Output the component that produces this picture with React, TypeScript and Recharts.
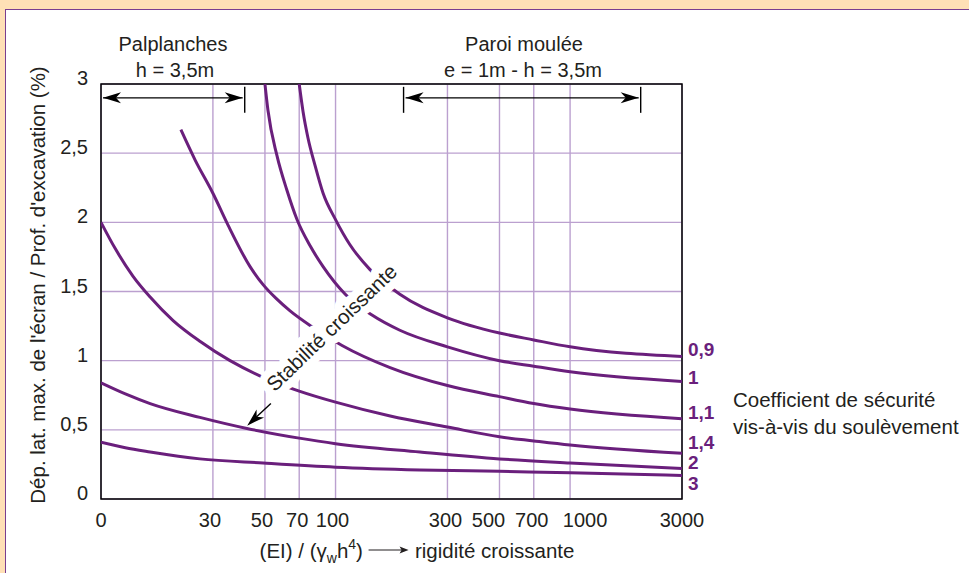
import React from 'react';
import {
  LineChart,
  Line,
  XAxis,
  YAxis,
  CartesianGrid,
  ReferenceArea,
  ReferenceLine,
  ReferenceDot,
} from 'recharts';

// x : (EI)/(γw h^4), log axis, the "0" tick sits at 10
const xTicks = [10, 30, 50, 70, 100, 300, 500, 700, 1000, 3000];
const yTicks = [0, 0.5, 1, 1.5, 2, 2.5, 3];

const seriesNames = ['0,9', '1', '1,1', '1,4', '2', '3'];

const x09 = [70, 72.7, 76.3, 81.8, 88.5, 100, 115, 140, 188, 300, 500, 700, 1000, 3000];
const y09 = [3.0, 2.8, 2.61, 2.41, 2.21, 2.02, 1.84, 1.66, 1.48, 1.31, 1.2, 1.15, 1.1, 1.03];

const x10 = [50, 51.5, 56.3, 62.1, 68.5, 77.9, 88.5, 110, 143, 188, 300, 500, 700, 1000, 3000];
const y10 = [3.0, 2.81, 2.48, 2.23, 2.02, 1.83, 1.68, 1.48, 1.33, 1.22, 1.1, 1.0, 0.96, 0.92, 0.85];

const x11 = [21.9, 25.2, 30, 34.8, 43.2, 49.1, 55.8, 64, 80.2, 106.6, 170.8, 300, 500, 700, 1000, 3000];
const y11 = [2.67, 2.45, 2.21, 1.98, 1.68, 1.55, 1.45, 1.36, 1.24, 1.11, 0.95, 0.82, 0.74, 0.69, 0.65, 0.58];

const x14 = [10, 11.5, 13.7, 16.2, 20.3, 26.4, 35.5, 49.1, 70, 100, 171, 300, 500, 700, 1000, 3000];
const y14 = [2.0, 1.81, 1.61, 1.46, 1.29, 1.14, 1.0, 0.88, 0.78, 0.7, 0.6, 0.52, 0.45, 0.42, 0.39, 0.33];

const x20 = [10, 12.7, 16.2, 26.4, 41.9, 70, 100, 229, 500, 1000, 3000];
const y20 = [0.84, 0.76, 0.69, 0.59, 0.51, 0.44, 0.4, 0.34, 0.29, 0.26, 0.22];

const x30 = [10, 12.7, 16.2, 26.4, 49.1, 100, 229, 500, 1000, 3000];
const y30 = [0.41, 0.37, 0.34, 0.29, 0.26, 0.23, 0.21, 0.2, 0.19, 0.17];

// annotation spans (x data units) drawn at y = 2.9
const palplanchesSpan = [10, 41];
const paroiSpan = [195, 2000];
const spanY = 2.9;
// "Stabilité croissante" arrow, from -> to
const stabArrow = [
  { x: 53, y: 0.69 },
  { x: 42, y: 0.53 },
];
const stabText = { x: 96, y: 1.24 };

const PURPLE = '#6a1f7c';
const GRID = '#bba0cf';
const INK = '#231f20';
const FONT = '"Liberation Sans", Arial, Helvetica, sans-serif';

const toPoints = (xs: number[], ys: number[]) => xs.map((x, i) => ({ x, y: ys[i] }));
const curves = [
  toPoints(x09, y09),
  toPoints(x10, y10),
  toPoints(x11, y11),
  toPoints(x14, y14),
  toPoints(x20, y20),
  toPoints(x30, y30),
];
const endLabelDy = [-7, -4, -6, -11, -6, 8];
const xLabelDx: Record<number, number> = { 30: -3, 50: -3, 70: -2, 100: -3, 300: -2, 500: -11, 700: -2, 1000: 15 };

const XTick = (props: any) => {
  const { x, y, payload } = props;
  const v = payload.value;
  return (
    <text x={x + (xLabelDx[v] || 0)} y={y + 20} textAnchor="middle" fontSize={20} fill={INK} fontFamily={FONT}>
      {v === 10 ? '0' : String(v)}
    </text>
  );
};

const YTick = (props: any) => {
  const { y, payload } = props;
  return (
    <text x={88} y={y + 1} textAnchor="end" fontSize={20} fill={INK} fontFamily={FONT}>
      {String(payload.value).replace('.', ',')}
    </text>
  );
};

const arrowHead = (x: number, y: number, ux: number, uy: number) => {
  // tip at (x,y), pointing along (ux,uy)
  const L = 18;
  const W = 5.5;
  const bx = x - ux * L;
  const by = y - uy * L;
  const nx = -uy;
  const ny = ux;
  const mx = x - ux * L * 0.72;
  const my = y - uy * L * 0.72;
  return `M${x},${y} L${bx + nx * W},${by + ny * W} L${mx},${my} L${bx - nx * W},${by - ny * W} Z`;
};

const SpanArrow = (withLeftBar: boolean) => (p: any) => {
  const { x1, y1, x2 } = p;
  const y = y1;
  return (
    <g>
      <line x1={x1 + 2} y1={y} x2={x2 - 2} y2={y} stroke="#000" strokeWidth={1.4} />
      <path d={arrowHead(x1 + 2, y, -1, 0)} fill="#000" />
      <path d={arrowHead(x2 - 2, y, 1, 0)} fill="#000" />
      {withLeftBar && <line x1={x1} y1={y - 11} x2={x1} y2={y + 15} stroke="#000" strokeWidth={1.4} />}
      <line x1={x2} y1={y - 11} x2={x2} y2={y + 15} stroke="#000" strokeWidth={1.4} />
    </g>
  );
};

const StabArrow = (p: any) => {
  const { x1, y1, x2, y2 } = p;
  const d = Math.hypot(x2 - x1, y2 - y1);
  const ux = (x2 - x1) / d;
  const uy = (y2 - y1) / d;
  return (
    <g>
      <line x1={x1} y1={y1} x2={x2 - ux * 10} y2={y2 - uy * 10} stroke="#000" strokeWidth={1.4} />
      <path d={arrowHead(x2, y2, ux, uy)} fill="#000" />
    </g>
  );
};

const StabText = (p: any) => {
  const { cx, cy } = p;
  return (
    <text
      x={cx}
      y={cy}
      transform={`rotate(-44 ${cx} ${cy})`}
      textAnchor="middle"
      dominantBaseline="central"
      fontSize={20.5}
      fontFamily={FONT}
      fill={INK}
      stroke="#fff"
      strokeWidth={16}
      strokeLinejoin="round"
      paintOrder="stroke"
    >
      Stabilité croissante
    </text>
  );
};

const EndLabel = (text: string, dy: number) => (p: any) => (
  <text
    x={p.cx + 6}
    y={p.cy + dy}
    dominantBaseline="central"
    fontSize={19}
    fontWeight="bold"
    fill={PURPLE}
    fontFamily={FONT}
  >
    {text}
  </text>
);

const abs = (left: number, top: number, extra: React.CSSProperties = {}): React.CSSProperties => ({
  position: 'absolute',
  left,
  top,
  transform: 'translate(-50%, -50%)',
  whiteSpace: 'nowrap',
  lineHeight: 1,
  fontSize: 20,
  color: INK,
  fontFamily: FONT,
  ...extra,
});

export default function App() {
  return (
    <div style={{ position: 'absolute', left: 0, top: 0, width: 969, height: 573, overflow: 'hidden', background: '#ffe0b6' }}>
      <div
        style={{
          position: 'absolute',
          left: 5,
          top: 9,
          width: 990,
          height: 600,
          background: '#fff',
          border: '1.5px solid #7a3e90',
        }}
      />
      <div style={{ position: 'absolute', left: 0, top: 0 }}>
        <LineChart width={969} height={573} margin={{ top: 84, right: 287, bottom: 44, left: 41 }}>
          <CartesianGrid stroke={GRID} strokeWidth={1.4} />
          <XAxis
            type="number"
            dataKey="x"
            scale="log"
            domain={[10, 3000]}
            allowDataOverflow
            ticks={xTicks}
            interval={0}
            height={30}
            tick={<XTick />}
            tickLine={false}
            axisLine={false}
          />
          <YAxis
            type="number"
            dataKey="y"
            domain={[0, 3]}
            allowDataOverflow
            ticks={yTicks}
            interval={0}
            width={60}
            tick={<YTick />}
            tickLine={false}
            axisLine={false}
          />
          {curves.map((pts, i) => (
            <Line
              key={seriesNames[i]}
              data={pts}
              dataKey="y"
              type="monotone"
              stroke={PURPLE}
              strokeWidth={3}
              dot={false}
              activeDot={false}
              isAnimationActive={false}
            />
          ))}
          <ReferenceArea x1={10} x2={3000} y1={0} y2={3} fill="none" fillOpacity={0} stroke="#000" strokeWidth={1.5} />
          <ReferenceLine
            segment={[
              { x: palplanchesSpan[0], y: spanY },
              { x: palplanchesSpan[1], y: spanY },
            ]}
            shape={SpanArrow(false)}
          />
          <ReferenceLine
            segment={[
              { x: paroiSpan[0], y: spanY },
              { x: paroiSpan[1], y: spanY },
            ]}
            shape={SpanArrow(true)}
          />
          <ReferenceLine segment={stabArrow} shape={StabArrow} />
          <ReferenceDot x={stabText.x} y={stabText.y} r={0} shape={StabText} zIndex={1000} />
          {curves.map((pts, i) => (
            <ReferenceDot
              key={'lbl' + i}
              x={pts[pts.length - 1].x}
              y={pts[pts.length - 1].y}
              r={0}
              ifOverflow="visible"
              shape={EndLabel(seriesNames[i], endLabelDy[i])}
            />
          ))}
        </LineChart>
      </div>
      <div style={abs(173, 44)}>Palplanches</div>
      <div style={abs(175, 70)}>h = 3,5m</div>
      <div style={abs(524, 44)}>Paroi moulée</div>
      <div style={abs(523, 70)}>e = 1m - h = 3,5m</div>
      <div style={abs(38, 285, { transform: 'translate(-50%, -50%) rotate(-90deg)', fontSize: 20.5 })}>
        Dép. lat. max. de l'écran / Prof. d'excavation (%)
      </div>
      <div style={abs(417, 551, { fontSize: 20.5 })}>
        (EI) / (γ<sub style={{ fontSize: 14, verticalAlign: -5 }}>w</sub>h<sup style={{ fontSize: 14, verticalAlign: 9 }}>4</sup>)
        <svg width={44} height={10} style={{ margin: '0 4px', verticalAlign: 3 }}>
          <line x1={2} y1={5} x2={38} y2={5} stroke={INK} strokeWidth={1.2} />
          <path d="M42,5 L33,1.5 L35,5 L33,8.5 Z" fill={INK} />
        </svg>
        rigidité croissante
      </div>
      <div style={{ ...abs(733, 400), transform: 'translate(0, -50%)', fontSize: 20.5 }}>Coefficient de sécurité</div>
      <div style={{ ...abs(733, 427), transform: 'translate(0, -50%)', fontSize: 20.5 }}>vis-à-vis du soulèvement</div>
    </div>
  );
}
